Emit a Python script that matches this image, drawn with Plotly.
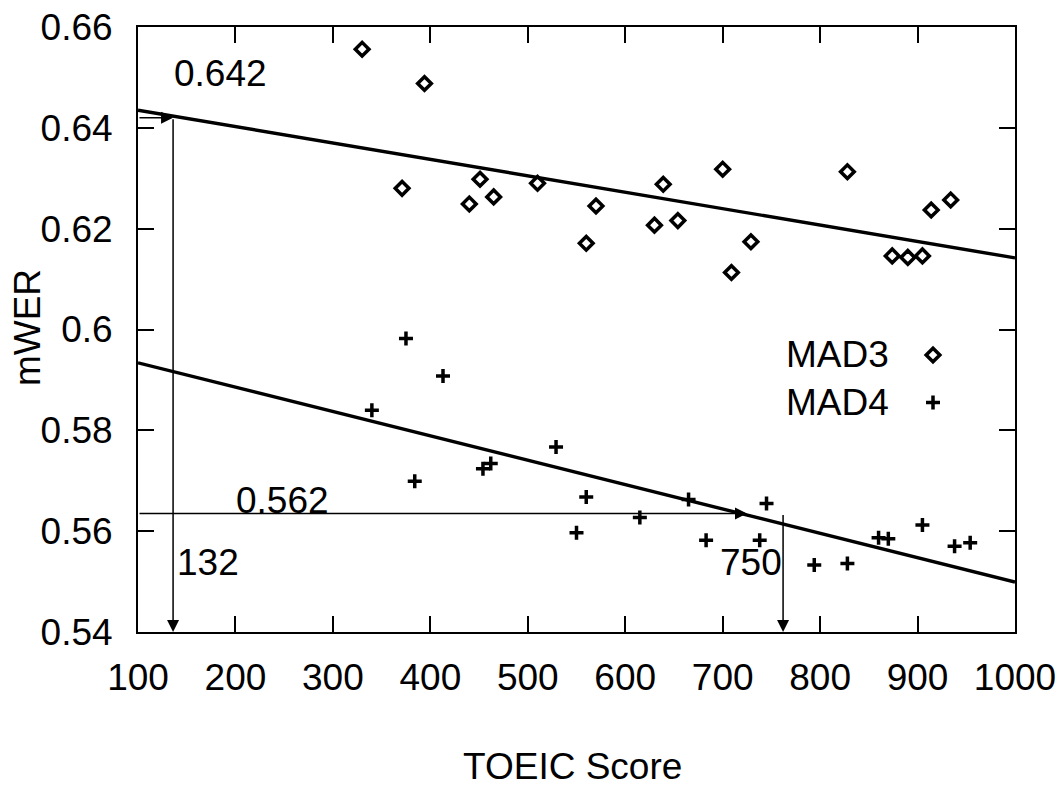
import plotly.graph_objects as go

# ---- data ----
mad3_x = [330, 394, 371, 451, 440, 465, 510, 570, 560, 639, 630, 654, 700, 709, 729, 828, 874, 890, 905, 914, 934]
mad3_y = [0.6556, 0.6488, 0.6280, 0.6298, 0.6249, 0.6263, 0.6290, 0.6245, 0.6171, 0.6288, 0.6207,
          0.6216, 0.6318, 0.6113, 0.6174, 0.6313, 0.6146, 0.6143, 0.6146, 0.6237, 0.6257]

mad4_x = [375, 413, 340, 384, 529, 454, 462, 560, 550, 615, 665, 683, 745, 738, 794, 828, 860, 870, 905, 938, 954]
mad4_y = [0.5982, 0.5908, 0.5840, 0.5699, 0.5767, 0.5724, 0.5734, 0.5668, 0.5597, 0.5627, 0.5663,
          0.5582, 0.5655, 0.5582, 0.5533, 0.5536, 0.5587, 0.5585, 0.5612, 0.5570, 0.5577]

fit_x = [100, 1000]
mad3_fit = [0.6435, 0.6142]
mad4_fit = [0.5934, 0.5499]

# projection guides: (score, mWER)
mad3_proj_score, mad3_proj_wer = 136, 0.642
mad4_proj_hline_end, mad4_proj_score, mad4_proj_wer = 725, 762, 0.5635
proj_labels = ["0.642", "132", "0.562", "750"]

x_ticks = [100, 200, 300, 400, 500, 600, 700, 800, 900, 1000]
y_ticks = [0.54, 0.56, 0.58, 0.60, 0.62, 0.64, 0.66]
y_ticktext = ["0.54", "0.56", "0.58", "0.6", "0.62", "0.64", "0.66"]
series_names = ["MAD3", "MAD4"]
x_min, x_max = 100, 1000
y_min, y_max = 0.54, 0.66

FONT = "Liberation Sans, Arial, Helvetica, sans-serif"
FS = 37

fig = go.Figure()

fig.add_trace(go.Scatter(x=fit_x, y=mad3_fit, mode="lines",
                         line=dict(color="black", width=3.4), showlegend=False))
fig.add_trace(go.Scatter(x=fit_x, y=mad4_fit, mode="lines",
                         line=dict(color="black", width=3.4), showlegend=False))
fig.add_trace(go.Scatter(x=mad3_x, y=mad3_y, mode="markers", name=series_names[0],
                         marker=dict(symbol="diamond-open", size=10.5, color="black",
                                     line=dict(width=3.5, color="black")), showlegend=False))
fig.add_trace(go.Scatter(x=mad4_x, y=mad4_y, mode="markers", name=series_names[1],
                         marker=dict(symbol="cross-thin-open", size=10, color="black",
                                     line=dict(width=3.5, color="black")), showlegend=False))

# manual gnuplot-style legend keys (text left, symbol right) on an overlay paper-like axis
legend_key_x = [0.9065, 0.9065]
legend_key_y = [0.4579, 0.3793]
legend_symbols = ["diamond-open", "cross-thin-open"]
for kx, ky, sym in zip(legend_key_x, legend_key_y, legend_symbols):
    fig.add_trace(go.Scatter(x=[kx], y=[ky], xaxis="x2", yaxis="y2", mode="markers",
                             marker=dict(symbol=sym, size=10.5 if sym.startswith("diamond") else 10,
                                         color="black", line=dict(width=3.5, color="black")),
                             showlegend=False, hoverinfo="skip"))

annotations = []
arrow_common = dict(xref="x", yref="y", axref="x", ayref="y", text="", showarrow=True,
                    arrowhead=2, arrowsize=1.6, arrowwidth=1.5, arrowcolor="black",
                    standoff=0, startstandoff=0)
annotations.append(dict(x=mad3_proj_score, y=mad3_proj_wer, ax=x_min, ay=mad3_proj_wer, **arrow_common))
annotations.append(dict(x=mad3_proj_score, y=y_min, ax=mad3_proj_score, ay=mad3_proj_wer, **arrow_common))
annotations.append(dict(x=mad4_proj_hline_end, y=mad4_proj_wer, ax=x_min, ay=mad4_proj_wer, **arrow_common))
annotations.append(dict(x=mad4_proj_score, y=y_min, ax=mad4_proj_score, ay=mad4_proj_wer, **arrow_common))

txt_font = dict(family=FONT, size=FS, color="black")
annotations.append(dict(x=136, y=0.6508, xref="x", yref="y", text=proj_labels[0], showarrow=False,
                        xanchor="left", yanchor="middle", font=txt_font, borderpad=0))
annotations.append(dict(x=139, y=0.5538, xref="x", yref="y", text=proj_labels[1], showarrow=False,
                        xanchor="left", yanchor="middle", font=txt_font, borderpad=0))
annotations.append(dict(x=199.5, y=0.5660, xref="x", yref="y", text=proj_labels[2], showarrow=False,
                        xanchor="left", yanchor="middle", font=txt_font, borderpad=0))
annotations.append(dict(x=762, y=0.5538, xref="x", yref="y", text=proj_labels[3], showarrow=False,
                        xanchor="right", yanchor="middle", font=txt_font, borderpad=0))

# legend texts
for name, ky in zip(series_names, legend_key_y):
    annotations.append(dict(x=0.8575, y=ky, xref="paper", yref="paper", text=name, showarrow=False,
                            xanchor="right", yanchor="middle", font=txt_font, borderpad=0))

# axis titles
annotations.append(dict(x=0.496, y=-0.2215, xref="paper", yref="paper", text="TOEIC Score",
                        showarrow=False, xanchor="center", yanchor="middle", font=txt_font))
annotations.append(dict(x=-0.1266, y=0.504, xref="paper", yref="paper", text="mWER", textangle=-90,
                        showarrow=False, xanchor="center", yanchor="middle", font=txt_font))

axis_common = dict(showline=True, linewidth=2, linecolor="black", mirror="ticks",
                   ticks="inside", ticklen=16, tickwidth=2, tickcolor="black",
                   showgrid=False, zeroline=False, automargin=False,
                   tickfont=dict(family=FONT, size=FS, color="black"))

fig.update_layout(
    width=1064, height=786, autosize=False,
    margin=dict(l=138, r=49, t=27, b=154),
    paper_bgcolor="white", plot_bgcolor="white",
    xaxis=dict(range=[x_min, x_max], tickvals=x_ticks, ticklabelstandoff=12, **axis_common),
    yaxis=dict(range=[y_min, y_max], tickvals=y_ticks, ticktext=y_ticktext,
               ticklabelstandoff=16, **axis_common),
    xaxis2=dict(range=[0, 1], overlaying="x", visible=False, fixedrange=True),
    yaxis2=dict(range=[0, 1], overlaying="y", visible=False, fixedrange=True),
    annotations=annotations,
    showlegend=False,
)

fig.write_html("out.html", config={"displayModeBar": False},
               post_script="document.body.style.margin='0';document.body.style.padding='0';")
